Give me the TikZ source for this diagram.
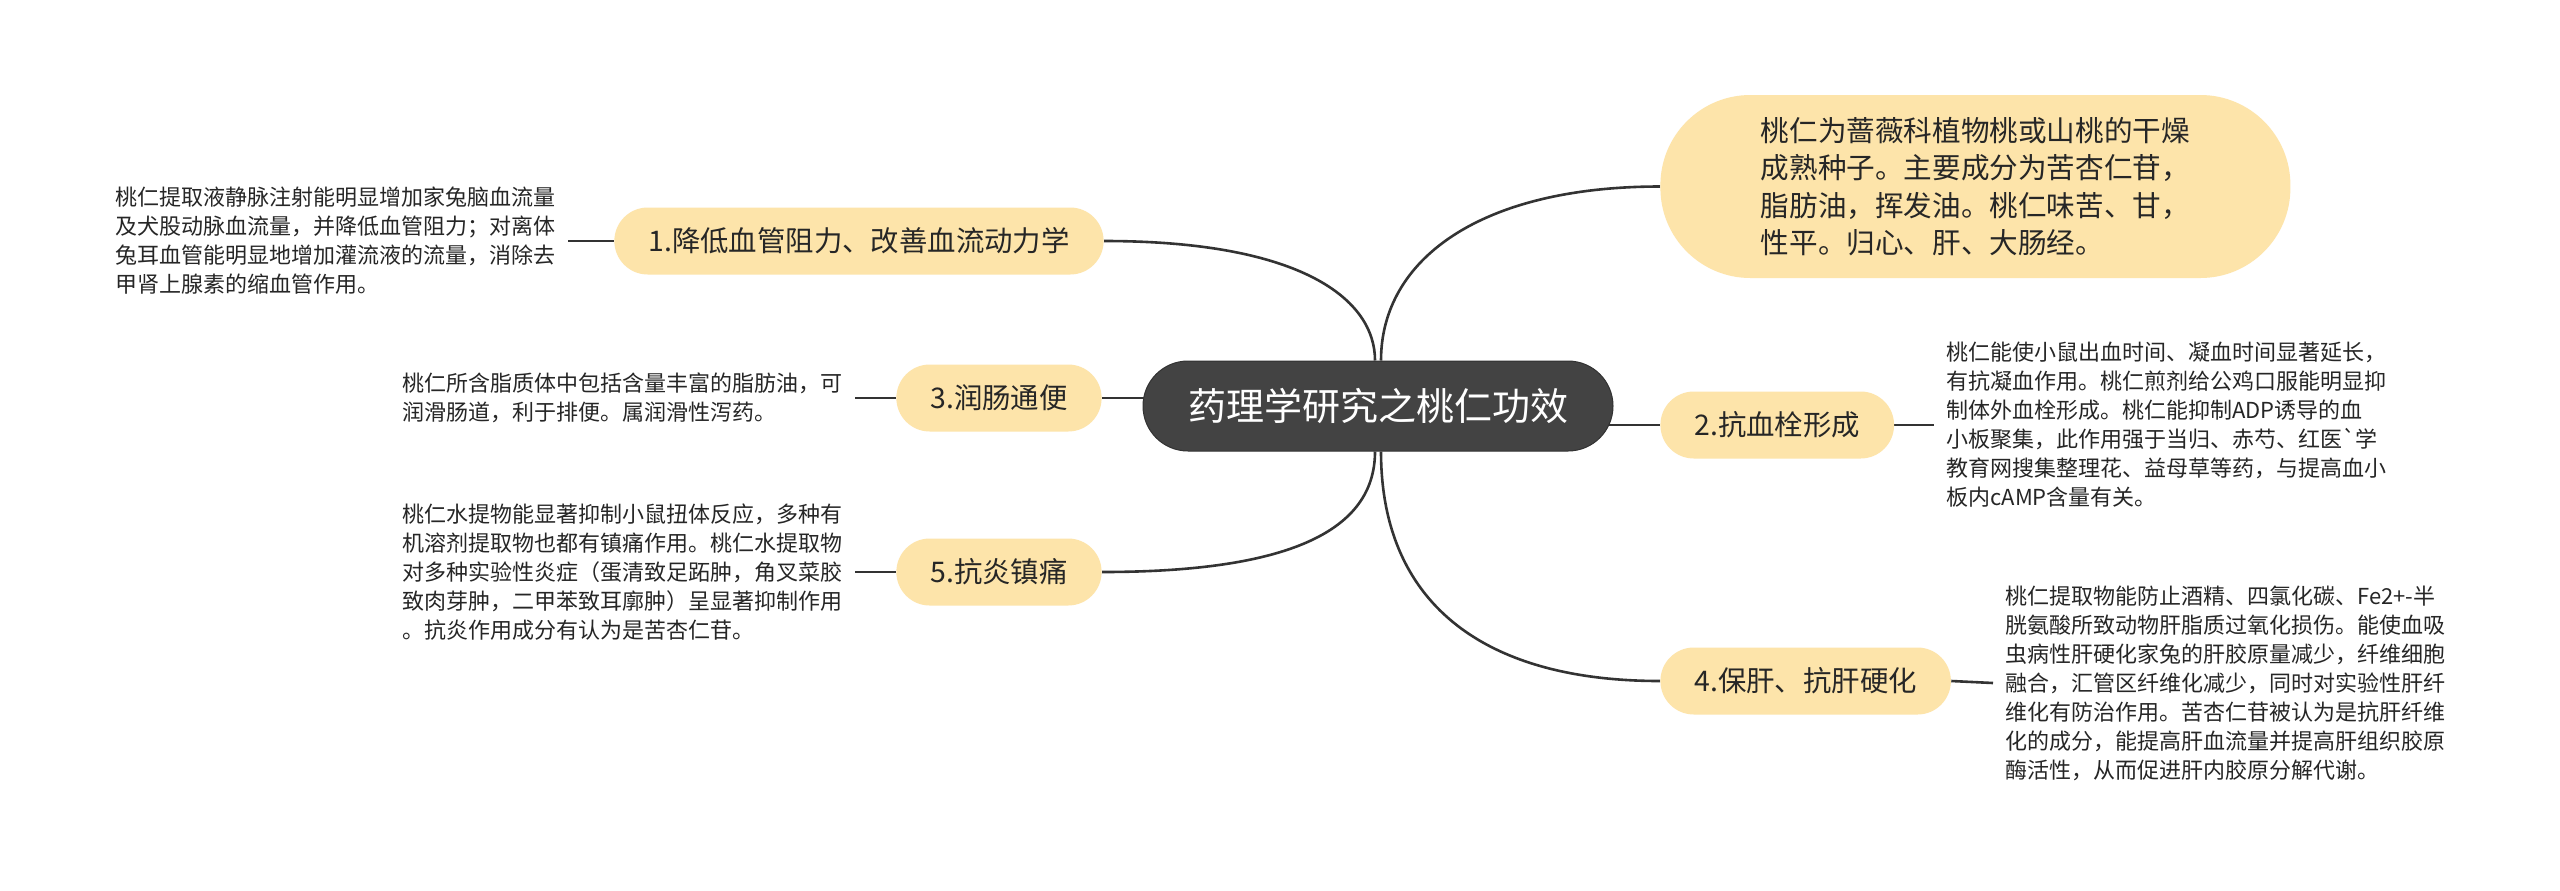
\documentclass[tikz,border=0pt]{standalone}
\usepackage{fontspec}
\setmainfont{Noto Sans CJK SC}
\usetikzlibrary{calc}
\definecolor{nodefill}{HTML}{FDE4AA}
\definecolor{rootfill}{HTML}{434343}
\definecolor{linec}{HTML}{333333}
\definecolor{txt}{HTML}{262626}
\pgfdeclarelayer{bg}
\pgfsetlayers{bg,main}
\begin{document}
\begin{tikzpicture}[x=0.5pt,y=-0.5pt,
  root/.style={rectangle, rounded corners=22.5pt, fill=rootfill, draw=rootfill!75!black, line width=0.5pt,
    text=white, font=\fontsize{19}{23}\selectfont, minimum width=235pt, minimum height=45pt, inner sep=0pt},
  topic/.style={rectangle, rounded corners=16.7pt, fill=nodefill, font=\fontsize{14.2}{17}\selectfont,
    minimum height=33.5pt, inner xsep=17pt, inner ysep=0pt, text=txt},
  bigtopic/.style={rectangle, rounded corners=45pt, fill=nodefill, font=\fontsize{14.3}{18.75}\selectfont,
    minimum width=315pt, minimum height=91.5pt, align=left, inner sep=0pt, text=txt},
  leaf/.style={align=left, font=\fontsize{11}{14.5}\selectfont, inner xsep=6pt, inner ysep=2pt, text=txt},
  conn/.style={draw=linec, line width=1.3pt}
]
\useasboundingbox (0,0) rectangle (2560,890);

% central
\node[root] (root) at (1378,406) {药理学研究之桃仁功效};

% topics
\node[bigtopic, anchor=west] (t0) at (1660,186.5) {桃仁为蔷薇科植物桃或山桃的干燥\\成熟种子。主要成分为苦杏仁苷，\\脂肪油，挥发油。桃仁味苦、甘，\\性平。归心、肝、大肠经。};
\node[topic, anchor=east] (t1) at (1104,241) {1.降低血管阻力、改善血流动力学};
\node[topic, anchor=east] (t3) at (1102,398) {3.润肠通便};
\node[topic, anchor=east] (t5) at (1102,572) {5.抗炎镇痛};
\node[topic, anchor=west] (t2) at (1660,425) {2.抗血栓形成};
\node[topic, anchor=west] (t4) at (1660,681) {4.保肝、抗肝硬化};

% leaves
\node[leaf, anchor=east] (l1) at (568,241) {桃仁提取液静脉注射能明显增加家兔脑血流量\\及犬股动脉血流量，并降低血管阻力；对离体\\兔耳血管能明显地增加灌流液的流量，消除去\\甲肾上腺素的缩血管作用。};
\node[leaf, anchor=east] (l3) at (855,398) {桃仁所含脂质体中包括含量丰富的脂肪油，可\\润滑肠道，利于排便。属润滑性泻药。};
\node[leaf, anchor=east] (l5) at (855,572) {桃仁水提物能显著抑制小鼠扭体反应，多种有\\机溶剂提取物也都有镇痛作用。桃仁水提取物\\对多种实验性炎症（蛋清致足跖肿，角叉菜胶\\致肉芽肿，二甲苯致耳廓肿）呈显著抑制作用\\。抗炎作用成分有认为是苦杏仁苷。};
\node[leaf, anchor=west] (l2) at (1934,425) {桃仁能使小鼠出血时间、凝血时间显著延长，\\有抗凝血作用。桃仁煎剂给公鸡口服能明显抑\\制体外血栓形成。桃仁能抑制ADP诱导的血\\小板聚集，此作用强于当归、赤芍、红医\textasciigrave 学\\教育网搜集整理花、益母草等药，与提高血小\\板内cAMP含量有关。};
\node[leaf, anchor=west] (l4) at (1993,683) {桃仁提取物能防止酒精、四氯化碳、Fe2+-半\\胱氨酸所致动物肝脂质过氧化损伤。能使血吸\\虫病性肝硬化家兔的肝胶原量减少，纤维细胞\\融合，汇管区纤维化减少，同时对实验性肝纤\\维化有防治作用。苦杏仁苷被认为是抗肝纤维\\化的成分，能提高肝血流量并提高肝组织胶原\\酶活性，从而促进肝内胶原分解代谢。};

\begin{pgfonlayer}{bg}
  \fill[white] (0,0) rectangle (2560,890);
  \draw[conn] (t1.east) .. controls +(198,0) and +(0,-61) .. ($(root.north)+(-3,0)$);
  \draw[conn] ($(root.north)+(3,0)$) .. controls +(0,-101) and +(-180,0) .. (t0.west);
  \draw[conn] ($(root.south)+(-3,0)$) .. controls +(0,79) and +(188,0) .. (t5.east);
  \draw[conn] ($(root.south)+(3,0)$) .. controls +(0,149) and +(-180,0) .. (t4.west);
  \draw[conn] (t3.east) -- (root.center |- t3.east);
  \draw[conn] (root.center |- t2.west) -- (t2.west);
  \draw[conn] (l1.east) -- (t1.west);
  \draw[conn] (l3.east) -- (t3.west);
  \draw[conn] (l5.east) -- (t5.west);
  \draw[conn] (t2.east) -- (l2.west);
  \draw[conn] (t4.east) -- (l4.west);
\end{pgfonlayer}
\end{tikzpicture}
\end{document}
